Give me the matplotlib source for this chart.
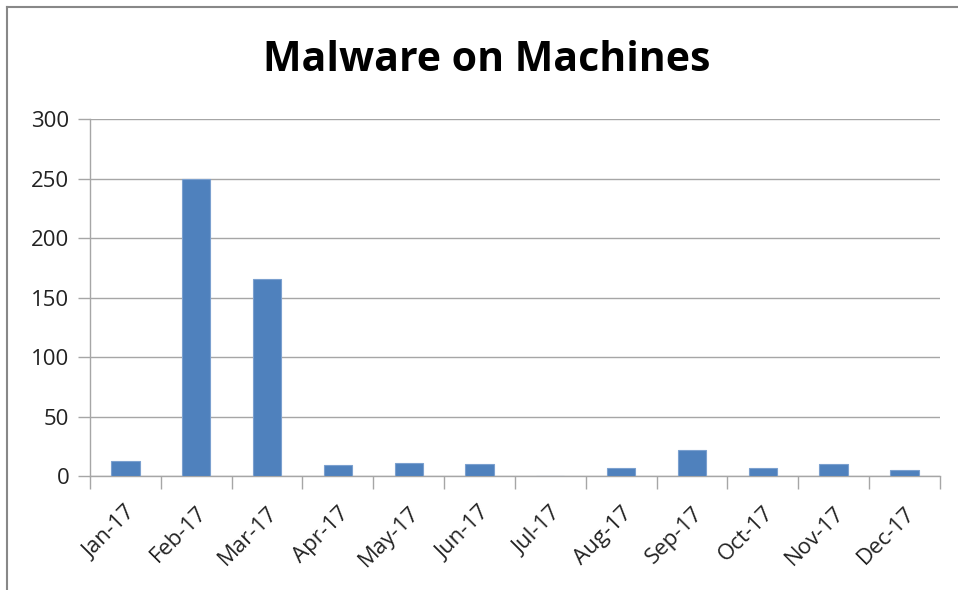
import numpy as np
from matplotlib import pyplot as plt
from matplotlib.lines import Line2D

months = ['Jan-17', 'Feb-17', 'Mar-17', 'Apr-17', 'May-17', 'Jun-17',
          'Jul-17', 'Aug-17', 'Sep-17', 'Oct-17', 'Nov-17', 'Dec-17']
malware = [13, 250, 166, 9, 11, 10, 0, 7, 22, 7, 10, 5]
yticks = [0, 50, 100, 150, 200, 250, 300]

plt.rcParams['font.family'] = ['Open Sans', 'DejaVu Sans']

fig = plt.figure(figsize=(9.58, 5.9), dpi=100)
ax = fig.add_axes([0.094, 0.193, 0.887, 0.605])

x = np.arange(len(months))
ax.bar(x, malware, width=0.4, color='#4F81BD', edgecolor='#7BA0CF',
       linewidth=0.8, zorder=3)

ax.set_xlim(-0.5, len(months) - 0.5)
ax.set_ylim(0, 300)
ax.set_yticks(yticks)
ax.yaxis.grid(True, color='#A6A6A6', linewidth=1, zorder=0)
ax.tick_params(axis='y', length=9, width=1, color='#A6A6A6',
               labelsize=16, pad=6, labelcolor='#222222')

# labels at the category centres, tick marks on the boundaries
ax.set_xticks(x)
ax.set_xticklabels(months, rotation=45, ha='right', rotation_mode='anchor',
                   fontsize=16, color='#222222')
ax.tick_params(axis='x', which='major', length=0, pad=19)
ax.set_xticks(np.arange(len(months) + 1) - 0.5, minor=True)
ax.tick_params(axis='x', which='minor', length=9, width=1, color='#A6A6A6')

for side in ['top', 'right']:
    ax.spines[side].set_visible(False)
for side in ['left', 'bottom']:
    ax.spines[side].set_color('#A6A6A6')
    ax.spines[side].set_linewidth(1)

fig.text(0.508, 0.898, 'Malware on Machines', ha='center', va='center',
         fontsize=29.5, fontweight='bold', color='black')

# chart frame
fig.add_artist(Line2D([0.0073, 0.0073], [0.0, 0.988], color='#888888', linewidth=1.5))
fig.add_artist(Line2D([0.0073, 1.0], [0.988, 0.988], color='#888888', linewidth=1.5))

fig.savefig('out.png', dpi=100)
